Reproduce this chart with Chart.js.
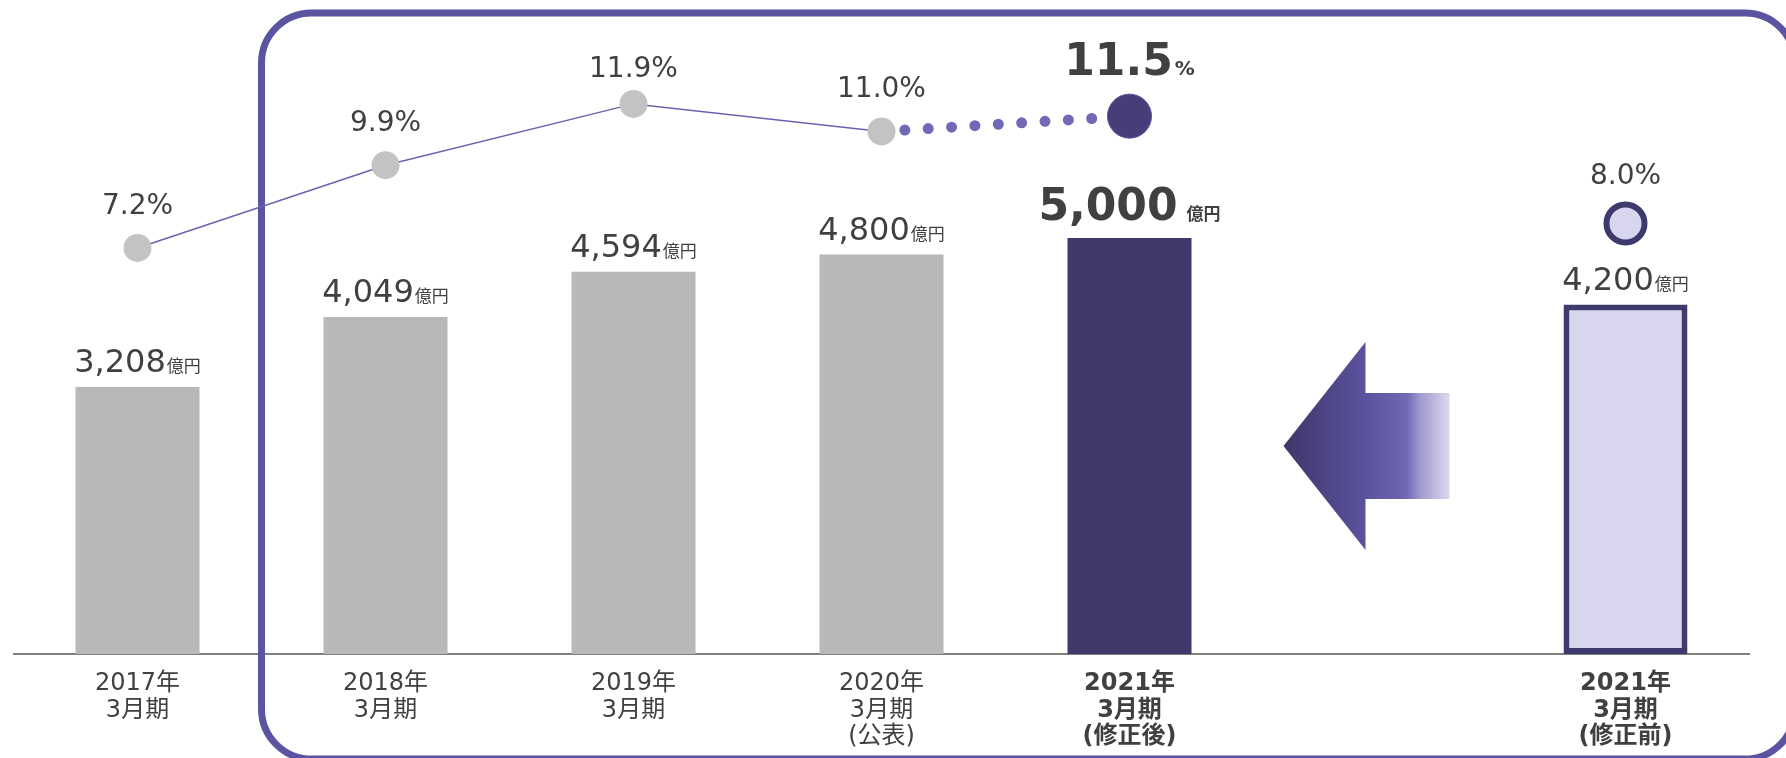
<!DOCTYPE html>
<html lang="ja">
<head>
<meta charset="utf-8">
<title>売上高・営業利益率</title>
<script src="https://cdn.jsdelivr.net/npm/chart.js@4.4.1/dist/chart.umd.min.js"></script>
<style>
  html, body { margin: 0; padding: 0; background: #fff; }
</style>
</head>
<body>
<canvas id="chart" width="1786" height="758"></canvas>
<script>
(function () {
  'use strict';

  // 決算期
  var categories = [
    ['2017年', '3月期'],
    ['2018年', '3月期'],
    ['2019年', '3月期'],
    ['2020年', '3月期', '(公表)'],
    ['2021年', '3月期', '(修正後)'],
    '',
    ['2021年', '3月期', '(修正前)']
  ];
  // 売上高（億円）
  var sales = [3208, 4049, 4594, 4800, 5000, null, 4200];
  // 営業利益率（%）
  var margin = [7.2, 9.9, 11.9, 11.0, 11.5, null, 8.0];

  var revisedIdx = 4;   // 2021年3月期（修正後）
  var previousIdx = 6;  // 2021年3月期（修正前）
  var lastActualIdx = 3;

  var FONT = '"DejaVu Sans", "Noto Sans CJK JP", sans-serif';
  var JP = '"Noto Sans CJK JP", sans-serif';
  var TEXT = '#404040';
  var FRAME_TOP = 13;

  var solidLine = margin.map(function (v, i) { return i <= lastActualIdx ? v : null; });
  var dottedLine = margin.map(function (v, i) { return (i === lastActualIdx || i === revisedIdx) ? v : null; });
  var previousPoint = margin.map(function (v, i) { return i === previousIdx ? v : null; });

  function fmt(n) {
    return Number(n).toLocaleString('en-US');
  }

  function drawPair(ctx, cx, baseY, main, mainFont, unit, unitFont, gap) {
    ctx.font = mainFont;
    var w1 = ctx.measureText(main).width;
    ctx.font = unitFont;
    var w2 = ctx.measureText(unit).width;
    var x = cx - (w1 + gap + w2) / 2;
    ctx.textAlign = 'left';
    ctx.textBaseline = 'alphabetic';
    ctx.font = mainFont;
    ctx.fillText(main, x, baseY);
    ctx.font = unitFont;
    ctx.fillText(unit, x + w1 + gap, baseY);
  }

  var decorPlugin = {
    id: 'decor',
    beforeDatasetsDraw: function (chart) {
      var ctx = chart.ctx;
      var xs = chart.scales.x;
      var area = chart.chartArea;
      ctx.save();

      // 枠（右端と下端は画面外まで）
      var left = (xs.getPixelForValue(0) + xs.getPixelForValue(1)) / 2;
      ctx.strokeStyle = '#5b54a0';
      ctx.lineWidth = 7;
      ctx.beginPath();
      ctx.roundRect(left, FRAME_TOP, chart.width + 9 - left, chart.height + 1 - FRAME_TOP, 50);
      ctx.stroke();

      // 矢印
      var cx = xs.getPixelForValue(5);
      var cy = area.bottom - 208;
      var tip = cx - 94, back = cx - 12, end = cx + 72;
      var headH = 104, shaftH = 53;
      var g = ctx.createLinearGradient(tip, 0, end, 0);
      g.addColorStop(0, '#3e3769');
      g.addColorStop(0.49, '#5b529e');
      g.addColorStop(0.74, '#6f67b2');
      g.addColorStop(0.82, '#9e98cd');
      g.addColorStop(1, '#dcd9f0');
      ctx.fillStyle = g;
      ctx.beginPath();
      ctx.moveTo(tip, cy);
      ctx.lineTo(back, cy - headH);
      ctx.lineTo(back, cy - shaftH);
      ctx.lineTo(end, cy - shaftH);
      ctx.lineTo(end, cy + shaftH);
      ctx.lineTo(back, cy + shaftH);
      ctx.lineTo(back, cy + headH);
      ctx.closePath();
      ctx.fill();
      ctx.restore();
    },
    afterDatasetsDraw: function (chart) {
      var ctx = chart.ctx;
      var xs = chart.scales.x;
      var y1 = chart.scales.y1;
      var bars = chart.getDatasetMeta(0).data;
      ctx.save();
      ctx.fillStyle = TEXT;

      sales.forEach(function (v, i) {
        if (v == null) return;
        var bar = bars[i];
        if (i === revisedIdx) {
          drawPair(ctx, bar.x, bar.y - 18, fmt(v), 'bold 44px ' + FONT, '億円', 'bold 17px ' + JP, 9);
        } else {
          drawPair(ctx, bar.x, bar.y - 15, fmt(v), '32px ' + FONT, '億円', '17px ' + JP, 1);
        }
      });

      margin.forEach(function (v, i) {
        if (v == null) return;
        var x = xs.getPixelForValue(i);
        var y = y1.getPixelForValue(v);
        if (i === revisedIdx) {
          drawPair(ctx, x, y - 41, v.toFixed(1), 'bold 44px ' + FONT, '%', 'bold 20px ' + FONT, 2);
        } else {
          var off = i === previousIdx ? 39 : 34;
          // 枠の上辺に重ならないよう下げる
          var base = Math.max(y - off, FRAME_TOP + 64);
          ctx.font = '28px ' + FONT;
          ctx.textAlign = 'center';
          ctx.textBaseline = 'alphabetic';
          ctx.fillText(v.toFixed(1) + '%', x, base);
        }
      });
      ctx.restore();
    }
  };

  new Chart(document.getElementById('chart'), {
    data: {
      labels: categories,
      datasets: [
        {
          type: 'bar',
          data: sales,
          backgroundColor: sales.map(function (v, i) {
            if (i === revisedIdx) return '#3f3a6b';
            if (i === previousIdx) return '#d8d6ee';
            return '#b8b8b8';
          }),
          borderColor: '#3f3a6e',
          borderWidth: sales.map(function (v, i) { return i === previousIdx ? 6 : 0; }),
          borderSkipped: false,
          barPercentage: 1,
          categoryPercentage: 0.5,
          yAxisID: 'y',
          order: 3
        },
        {
          type: 'line',
          data: dottedLine,
          borderColor: '#7168b6',
          borderWidth: 11,
          borderDash: [0, 23.4],
          borderCapStyle: 'round',
          pointRadius: function (c) { return c.dataIndex === revisedIdx ? 22 : 0; },
          pointBackgroundColor: '#463e78',
          pointBorderColor: '#5a529c',
          pointBorderWidth: 1,
          yAxisID: 'y1',
          order: 1
        },
        {
          type: 'line',
          data: previousPoint,
          showLine: false,
          pointRadius: 19,
          pointBackgroundColor: '#d8d6ee',
          pointBorderColor: '#3f3a6e',
          pointBorderWidth: 6,
          yAxisID: 'y1',
          order: 1
        },
        {
          type: 'line',
          data: solidLine,
          borderColor: '#6b61b3',
          borderWidth: 1.5,
          pointRadius: 14,
          pointBackgroundColor: '#c3c3c3',
          pointBorderWidth: 0,
          yAxisID: 'y1',
          order: 0
        }
      ]
    },
    options: {
      responsive: false,
      animation: false,
      events: [],
      layout: { padding: { left: 13.5, right: 36.5, top: 0, bottom: 0 }, autoPadding: false },
      plugins: {
        legend: { display: false },
        tooltip: { enabled: false }
      },
      scales: {
        x: {
          offset: true,
          grid: { display: false, drawTicks: false },
          border: { display: true, color: '#808080', width: 2 },
          ticks: {
            autoSkip: false,
            maxRotation: 0,
            padding: 17,
            color: TEXT,
            font: function (c) {
              return { family: FONT, size: 24, lineHeight: 1.1, weight: c.index >= revisedIdx ? 'bold' : 'normal' };
            }
          },
          afterFit: function (scale) { scale.height = 104; }
        },
        y: { display: false, min: 0, max: 7860 },
        y1: { display: false, min: -6.05, max: 15.29 }
      }
    },
    plugins: [decorPlugin]
  });
})();
</script>
</body>
</html>
